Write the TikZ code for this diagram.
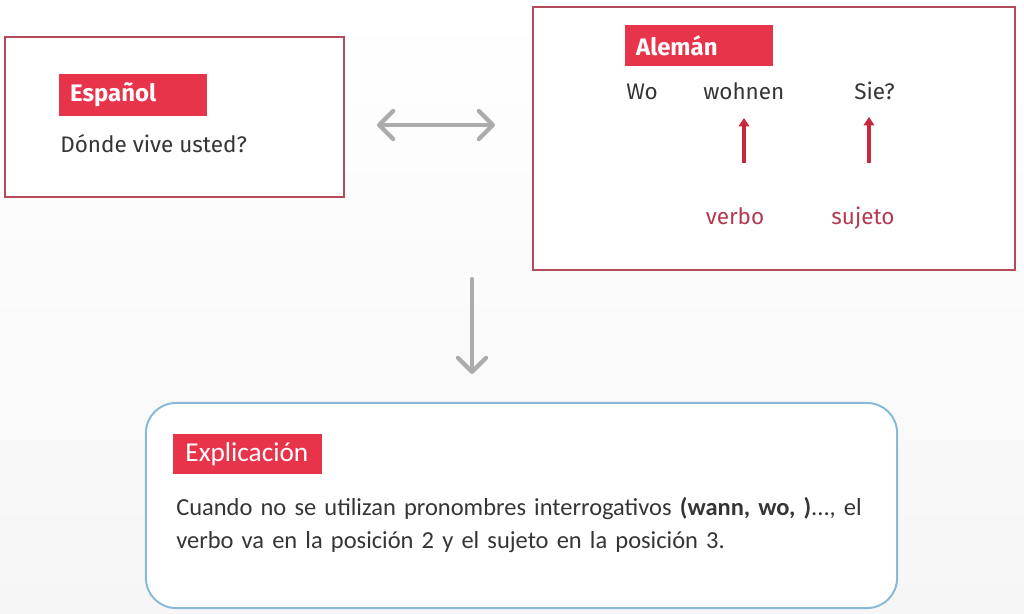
\documentclass[tikz,border=0pt]{standalone}
\usepackage{fontspec}
\setmainfont{Fira Sans}
\newfontfamily\calib{Carlito}
\usetikzlibrary{arrows.meta}
\definecolor{tagred}{HTML}{E8344A}
\definecolor{framered}{HTML}{B44A5C}
\definecolor{glossred}{HTML}{B23A50}
\definecolor{arrowred}{HTML}{C8283E}
\definecolor{arrowgray}{HTML}{ABABAB}
\definecolor{frameblue}{HTML}{88BAD8}
\definecolor{ink}{HTML}{353535}
\tikzset{
  frame/.style={draw=framered, line width=1.1pt, fill=white},
  tag/.style={fill=tagred, text=white, font=\fontsize{17}{20}\selectfont\bfseries,
    minimum width=3.7cm, minimum height=1.03cm, inner xsep=0.28cm,
    text width=3.14cm, align=left},
  word/.style={text=ink, font=\fontsize{16}{19}\selectfont, inner sep=0pt},
  gloss/.style={text=glossred, font=\fontsize{16}{19}\selectfont, inner sep=0pt},
  redarrow/.style={draw=arrowred, line width=3pt, -{Triangle[width=7.5pt,length=6pt]}},
  grayarrow/.style={draw=arrowgray, line width=3pt, line cap=round,
    arrows={-Straight Barb[length=10pt,width=20pt,round]}}
}
\begin{document}
\begin{tikzpicture}[x=0.025cm, y=-0.025cm]
  \useasboundingbox (0,0) rectangle (1024,613);
  \shade[top color=white, bottom color=gray!7] (0,0) rectangle (1024,613);

  % Spanish side
  \node[frame, minimum width=8.475cm, minimum height=4cm] (es) at (174.5,117) {};
  \node[tag] (estag) at (133,95) {Español};
  \node[word, anchor=base west] (esq) at (60,152) {Dónde vive usted?};

  % German side
  \node[frame, minimum width=12.05cm, minimum height=6.575cm] (de) at (774,138.5) {};
  \node[tag, minimum height=1.02cm] (detag) at (699,45.5) {Alemán};
  \node[word, anchor=base west] (wo) at (626,99) {Wo};
  \node[word, anchor=base west] (wohnen) at (703,99) {wohnen};
  \node[word, anchor=base west] (sie) at (854,99) {Sie?};
  \node[gloss, anchor=base] (verbo) at (735,224) {verbo};
  \node[gloss, anchor=base] (sujeto) at (863,224) {sujeto};
  \coordinate (vbBot) at (744,163);
  \coordinate (vbTop) at (744,118);
  \coordinate (sjBot) at (869,163);
  \coordinate (sjTop) at (869,117);
  \draw[redarrow] (vbBot) -- (vbTop);
  \draw[redarrow] (sjBot) -- (sjTop);

  % gray connectors
  \coordinate (swapL) at (377,125);
  \coordinate (swapR) at (495,125);
  \draw[grayarrow, arrows={Straight Barb[length=10pt,width=20pt,round]-Straight Barb[length=10pt,width=20pt,round]}] (swapL) -- (swapR);
  \coordinate (downTop) at (472,279);

  % explanation
  \node[draw=frameblue, line width=1.4pt, fill=white, rounded corners=0.75cm,
    minimum width=18.775cm, minimum height=5.125cm] (ex) at (521.5,505.5) {};
  \draw[grayarrow, shorten >=0.7cm] (downTop) -- (downTop |- ex.north);
  \node[tag, font=\calib\fontsize{19.4}{22}\selectfont, minimum height=1cm,
    inner xsep=0.3cm, text width=3.1cm] (extag) at (247.5,454) {Explicación};
  \node[word, font=\calib\fontsize{17.4}{23.6}\selectfont, anchor=base west,
    text width=18cm, align=left] (extxt) at (176,515)
    {Cuando no se utilizan pronombres interrogativos \textbf{(wann, wo, )}..., el\\
     verbo va en la posición 2 y el sujeto en la posición 3.};
\end{tikzpicture}
\end{document}
